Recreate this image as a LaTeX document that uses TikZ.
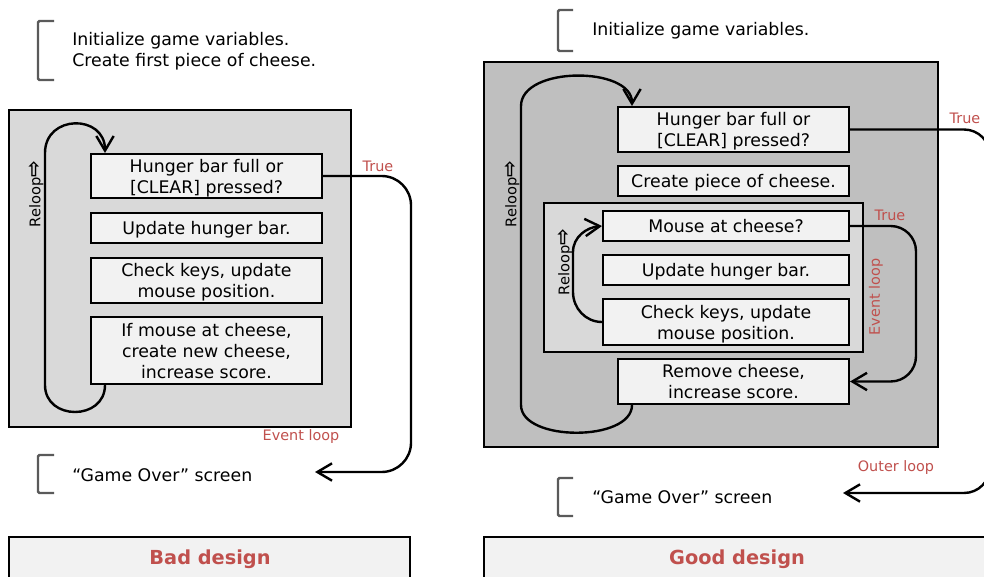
\documentclass[tikz,border=0pt]{standalone}
\usepackage{fontspec}
\setmainfont{DejaVu Sans}
\usetikzlibrary{arrows.meta,calc}
\definecolor{boxfill}{HTML}{F2F2F2}
\definecolor{panelA}{HTML}{D9D9D9}
\definecolor{panelB}{HTML}{BFBFBF}
\definecolor{redlab}{HTML}{C0504D}
\definecolor{brk}{HTML}{5A5A5A}
\newcommand\rlarrow{{\bfseries\fontsize{15}{15}\selectfont ⇨}}
\begin{document}
\begin{tikzpicture}[x=0.75pt,y=-0.75pt,
  box/.style={draw=black, line width=1.5pt, fill=boxfill, inner sep=0pt, align=center,
    text depth=0pt, font=\fontsize{13}{15.75}\selectfont},
  panel/.style={draw=black, line width=1.6pt, inner sep=0pt},
  conn/.style={draw=black, line width=1.8pt, -{Straight Barb[length=11pt,width=13pt]}},
  conntrue/.style={conn, rounded corners=22pt},
  lab/.style={text=redlab, font=\fontsize{10.8}{12}\selectfont, inner sep=0pt},
  rel/.style={rotate=90, font=\fontsize{11}{12}\selectfont, inner sep=0pt},
  brack/.style={draw=brk, line width=1.8pt, rounded corners=1pt},
  plain/.style={font=\fontsize{13}{15.75}\selectfont, align=left, anchor=west, inner sep=0pt},
  ttl/.style={font=\bfseries\fontsize{14.5}{17}\selectfont, text=redlab, inner sep=0pt}]
\useasboundingbox (0,0) rectangle (984,577);
\clip (0,0) rectangle (984,577);

% ---------------- Left: bad design ----------------
\draw[brack] (54,21) -- (38,21) -- (38,80) -- (54,80);
\node[plain] (initL) at (72,51) {Initialize game variables.\\Create first piece of cheese.};

\node[panel, fill=panelA, minimum width=256.5pt, minimum height=237.75pt] (LG) at (180,268.5) {};
\node[box, minimum width=173.25pt, minimum height=33pt] (b1) at (206.5,176) {Hunger bar full or\\{}[CLEAR] pressed?};
\node[box, minimum width=173.25pt, minimum height=22.5pt] (b2) at (206.5,228) {Update hunger bar.};
\node[box, minimum width=173.25pt, minimum height=33.75pt] (b3) at (206.5,280.5) {Check keys, update\\mouse position.};
\node[box, minimum width=173.25pt, minimum height=50.25pt] (b4) at (206.5,350.5) {If mouse at cheese,\\create new cheese,\\increase score.};

\draw[conn] ($(b4.south west)+(15,0)$) .. controls +(0,36) and +(0,36) .. ($(b4.south west)+(-45,0)$)
  -- ($(b1.north west)+(-45,0)$) .. controls +(0,-39) and +(0,-39) .. ($(b1.north west)+(15,0)$);
\node[rel] (relL) at (36,194) {Reloop\rlarrow};

\draw[brack] (54,455) -- (38,455) -- (38,493) -- (54,493);
\node[plain] (goL) at (72,475) {“Game Over” screen};
\coordinate (eL) at (315,472);
\draw[conntrue] (b1.east) -- ++(88,0) |- (eL);
\node[lab] (trueL) at (378,166) {True};
\node[lab] (evL) at (301,437) {Event loop};

\node[draw=black, line width=1.5pt, fill=boxfill, inner sep=0pt, minimum width=300.75pt, minimum height=47.25pt] (badbox) at (209.5,568.5) {};
\node[ttl] (bad) at (210,559) {Bad design};

% ---------------- Right: good design ----------------
\draw[brack] (573,10) -- (558,10) -- (558,51) -- (573,51);
\node[plain] (initR) at (592,31) {Initialize game variables.};

\node[panel, fill=panelB, minimum width=340.5pt, minimum height=288.75pt] (RG) at (711,254.5) {};
\node[box, minimum width=173.25pt, minimum height=33.75pt] (r1) at (733.5,129.5) {Hunger bar full or\\{}[CLEAR] pressed?};
\node[box, minimum width=173.25pt, minimum height=22.5pt] (r2) at (733.5,181) {Create piece of cheese.};
\node[panel, fill=panelA, minimum width=239.25pt, minimum height=111.75pt] (IG) at (703.5,277.5) {};
\node[box, minimum width=184.5pt, minimum height=22.5pt] (r3) at (726,226) {Mouse at cheese?};
\node[box, minimum width=184.5pt, minimum height=22.5pt] (r4) at (726,270) {Update hunger bar.};
\node[box, minimum width=184.5pt, minimum height=34.5pt] (r5) at (726,322) {Check keys, update\\mouse position.};
\node[box, minimum width=173.25pt, minimum height=33.75pt] (r6) at (733.5,381.5) {Remove cheese,\\increase score.};

% outer reloop
\draw[conn] ($(r6.south west)+(15,0)$) .. controls +(0,37) and +(0,37) .. ($(r6.south west)+(-96,0)$)
  -- ($(r1.north west)+(-96,0)$) .. controls +(0,-40) and +(0,-40) .. ($(r1.north west)+(15,0)$);
\node[rel] (relR) at (512,194) {Reloop\rlarrow};

% inner reloop
\draw[conn] (r5.west) to[out=180,in=-90] ($(r5.west)+(-29,-30)$)
  -- ($(r3.west)+(-29,26)$) to[out=90,in=185] (r3.west);
\node[rel] (relI) at (565,262) {Reloop\rlarrow};

% inner event loop
\draw[conn, rounded corners=19pt] (r3.east) -- ++(66,0) |- (r6.east);
\node[lab] (trueI) at (890,215) {True};
\node[lab, rotate=90] (evR) at (876,297) {Event loop};

% outer loop
\draw[brack] (573,478) -- (558,478) -- (558,516) -- (573,516);
\node[plain] (goR) at (592,497) {“Game Over” screen};
\coordinate (eR) at (843,493);
\draw[conn, rounded corners=19.5pt] (r1.east) -- ++(140,0) |- (eR);
\node[lab] (trueR) at (965,118) {True};
\node[lab] (outR) at (896,468) {Outer loop};

\node[draw=black, line width=1.5pt, fill=boxfill, inner sep=0pt, minimum width=394.5pt, minimum height=47.25pt] (goodbox) at (747,568.5) {};
\node[ttl] (good) at (737,559) {Good design};
\end{tikzpicture}
\end{document}
